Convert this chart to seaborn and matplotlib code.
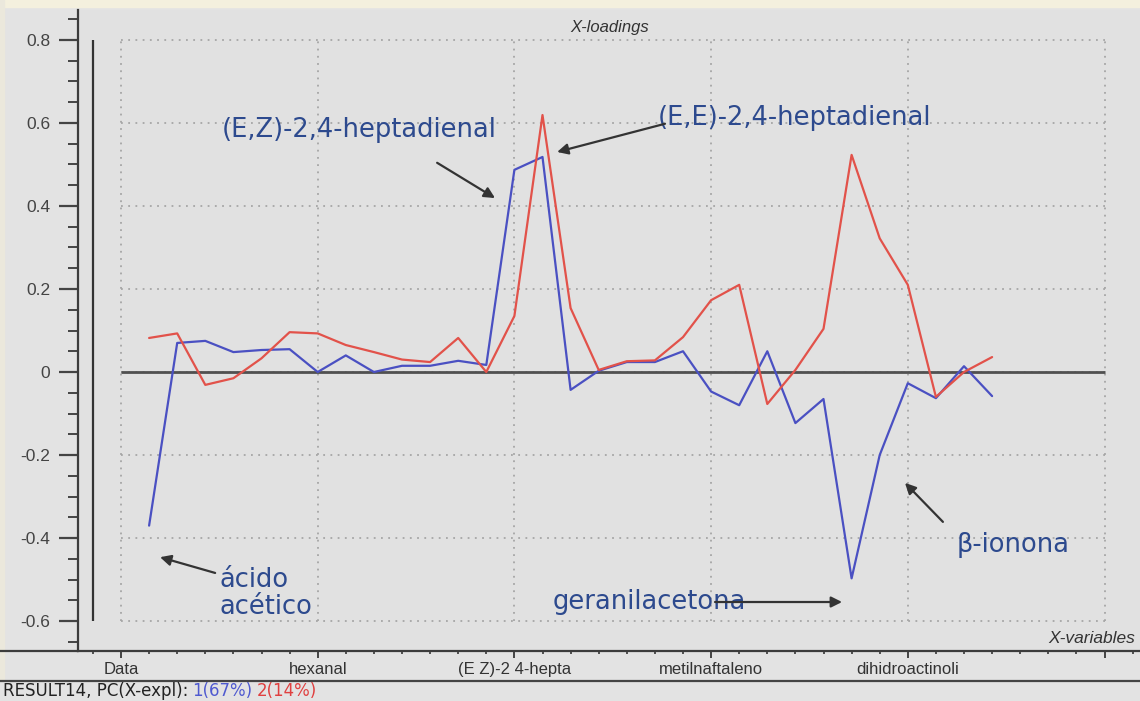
import matplotlib
matplotlib.use("Agg")
import matplotlib.pyplot as plt
import matplotlib.ticker as mticker
from matplotlib.lines import Line2D
from matplotlib.patches import Rectangle
import pandas as pd
import seaborn as sns

# loadings, variable index 1..31
variables = list(range(1, 32))
pc1 = [-0.37, 0.07, 0.075, 0.048, 0.053, 0.055, 0.0, 0.04, 0.0, 0.015,
       0.015, 0.027, 0.017, 0.487, 0.518, -0.043, 0.003, 0.024, 0.024, 0.05,
       -0.047, -0.08, 0.05, -0.123, -0.065, -0.497, -0.2, -0.027, -0.063, 0.014,
       -0.058]
pc2 = [0.082, 0.093, -0.031, -0.015, 0.033, 0.096, 0.093, 0.065, 0.048, 0.03,
       0.024, 0.082, 0.0, 0.135, 0.619, 0.154, 0.005, 0.026, 0.028, 0.084,
       0.173, 0.21, -0.077, 0.005, 0.104, 0.523, 0.322, 0.21, -0.06, 0.0,
       0.036]
x_ticks = [0, 7, 14, 21, 28, 35]
x_labels = ["Data", "hexanal", "(E Z)-2 4-hepta", "metilnaftaleno", "dihidroactinoli", ""]
y_ticks = [-0.6, -0.4, -0.2, 0, 0.2, 0.4, 0.6, 0.8]

df = pd.DataFrame({
    "variable": variables * 2,
    "loading": pc1 + pc2,
    "pc": ["1"] * len(pc1) + ["2"] * len(pc2),
})

sns.set_style("white")
plt.rcParams["font.family"] = ["Liberation Sans", "DejaVu Sans"]

W, H = 1140, 701
fig = plt.figure(figsize=(W / 100, H / 100), dpi=100, facecolor="#e3e3e3")
ax = fig.add_axes([78 / W, 50 / H, (W - 78) / W, 641 / H])
ax.set_facecolor("#e1e1e1")

# light cream frame at the top/left edge
fig.add_artist(Rectangle((0, (H - 7) / H), 1, 7 / H, transform=fig.transFigure,
                         color="#f4f0de", zorder=0))
fig.add_artist(Rectangle((0, 0.03), 4 / W, 0.97, transform=fig.transFigure,
                         color="#ebe8dc", zorder=0))

ax.set_xlim(-43 / 28.1, (W - 121) / 28.1)
ax.set_ylim(-0.672, 0.872)

# dotted grid box
ax.hlines(y_ticks, 0, 35, colors="#a6a6a6", linestyles=(0, (1, 3)), lw=1.3, zorder=1)
ax.vlines(x_ticks, -0.6, 0.8, colors="#a6a6a6", linestyles=(0, (1, 3)), lw=1.3, zorder=1)
ax.hlines(0, 0, 35, colors="#505050", lw=2.0, zorder=2)
ax.vlines(-1, -0.6, 0.8, colors="#333333", lw=1.6, zorder=2)

sns.lineplot(data=df, x="variable", y="loading", hue="pc",
             palette={"1": "#4a50c2", "2": "#e2524a"}, lw=1.6,
             legend=False, ax=ax, zorder=3)

for s in ["top", "right"]:
    ax.spines[s].set_visible(False)
for s in ["left", "bottom"]:
    ax.spines[s].set_color("#3c3c3c")
    ax.spines[s].set_linewidth(1.6)

ax.set_xticks(x_ticks)
ax.set_xticklabels(x_labels)
ax.xaxis.set_minor_locator(mticker.MultipleLocator(1))
ax.set_yticks(y_ticks)
ax.set_yticklabels(["0" if v == 0 else f"{v:.1f}" for v in y_ticks])
ax.yaxis.set_minor_locator(mticker.MultipleLocator(0.05))
ax.tick_params(left=True, bottom=True, which="both")
ax.tick_params(axis="y", which="major", direction="out", length=14, width=1.6,
               color="#444444", labelsize=12.5, labelcolor="#444444", pad=6)
ax.tick_params(axis="y", which="minor", direction="out", length=7, width=1.4,
               color="#444444")
ax.tick_params(axis="x", which="major", direction="out", length=5, width=1.4,
               color="#444444", labelsize=12, labelcolor="#333333", pad=3)
ax.tick_params(axis="x", which="minor", direction="out", length=2.5, width=1.3,
               color="#444444")
ax.set_xlabel("")
ax.set_ylabel("")

ax.text(17.4, 0.829, "X-loadings", ha="center", va="center", fontsize=12,
        style="italic", color="#333333")
ax.text(36.1, -0.643, "X-variables", ha="right", va="center", fontsize=12.5,
        style="italic", color="#333333")

# annotations
lab_color = "#2d4a8e"
lab_size = 18.5
arrow = dict(arrowstyle="-|>", color="#333333", lw=1.6, mutation_scale=16,
             shrinkA=0, shrinkB=0)
ax.text(3.59, 0.583, "(E,Z)-2,4-heptadienal", fontsize=lab_size, color=lab_color,
        ha="left", va="center", family="DejaVu Sans")
ax.annotate("", xy=(13.31, 0.419), xytext=(11.25, 0.504), arrowprops=arrow)
ax.text(19.11, 0.612, "(E,E)-2,4-heptadienal", fontsize=lab_size, color=lab_color,
        ha="left", va="center", family="DejaVu Sans")
ax.annotate("", xy=(15.52, 0.530), xytext=(19.36, 0.598), arrowprops=arrow)
ax.text(3.52, -0.533, "ácido\nacético", fontsize=lab_size, color=lab_color,
        ha="left", va="center", linespacing=1.05, family="DejaVu Sans")
ax.annotate("", xy=(1.39, -0.446), xytext=(3.35, -0.484), arrowprops=arrow)
ax.text(15.37, -0.554, "geranilacetona", fontsize=lab_size, color=lab_color,
        ha="left", va="center", family="DejaVu Sans")
ax.annotate("", xy=(25.66, -0.554), xytext=(21.14, -0.554), arrowprops=arrow)
ax.text(29.75, -0.417, "β-ionona", fontsize=lab_size, color=lab_color,
        ha="left", va="center", family="DejaVu Sans")
ax.annotate("", xy=(27.9, -0.267), xytext=(29.25, -0.361), arrowprops=arrow)

# axis line extended to the left and bottom status bar
fig.add_artist(Line2D([0, 78 / W], [50 / H, 50 / H], color="#3c3c3c", lw=1.6))
fig.add_artist(Line2D([0, 1], [20 / H, 20 / H], color="#444444", lw=1.6))
status_size = 12
t1 = fig.text(3 / W, 10 / H, "RESULT14, PC(X-expl):", fontsize=status_size,
              color="#222222", va="center", ha="left", family="DejaVu Sans")
a2 = ax.annotate("1(67%)", xy=(1, 0), xycoords=t1, xytext=(3, 0),
                 textcoords="offset points", fontsize=status_size, color="#4f5ad0",
                 va="bottom", ha="left", family="DejaVu Sans")
ax.annotate("2(14%)", xy=(1, 0), xycoords=a2, xytext=(3, 0),
            textcoords="offset points", fontsize=status_size, color="#e04040",
            va="bottom", ha="left", family="DejaVu Sans")

fig.savefig("out.png", dpi=100, facecolor=fig.get_facecolor())
